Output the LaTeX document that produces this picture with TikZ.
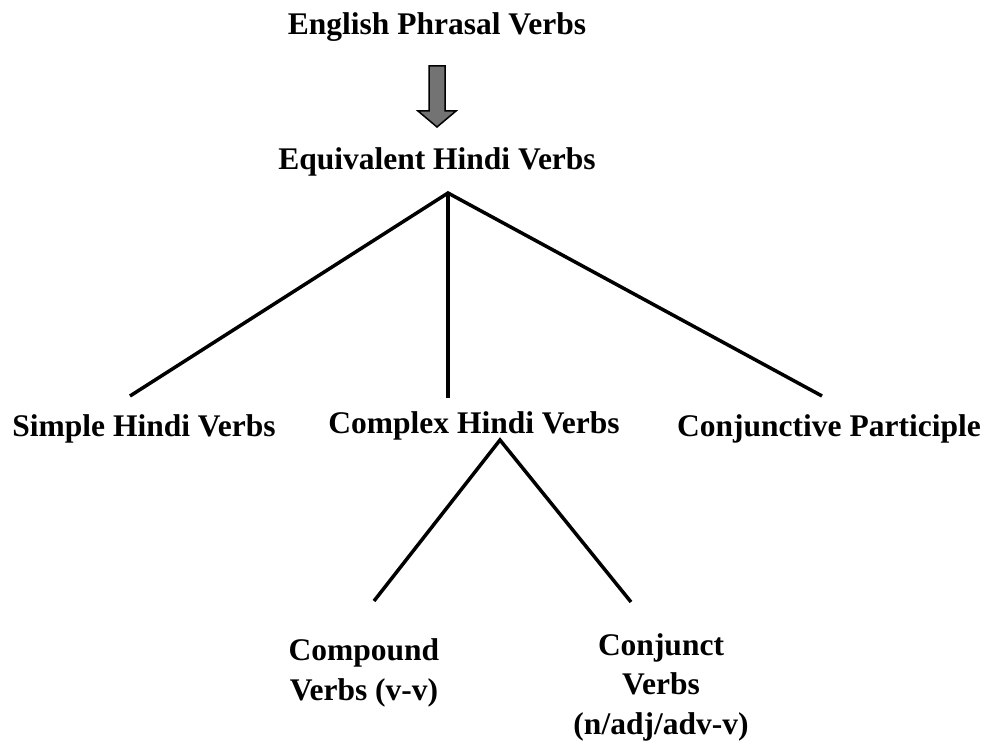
\documentclass[tikz,border=0pt]{standalone}
\usepackage{fontspec}
\setmainfont{Liberation Serif}
\begin{document}
\begin{tikzpicture}[x=1pt,y=-1pt,
  lbl/.style={font=\bfseries\fontsize{31.5}{39.5}\selectfont, inner sep=0pt, align=center},
  edge/.style={line width=3.5pt}]
\useasboundingbox (0,0) rectangle (995,749);
\node[lbl] (eng) at (437,27) {English Phrasal Verbs};
\node[lbl] (hin) at (437,162) {Equivalent Hindi Verbs};
\node[lbl] (simple) at (144,429) {Simple Hindi Verbs};
\node[lbl] (complex) at (474,426) {Complex Hindi Verbs};
\node[lbl] (conjp) at (829,429) {Conjunctive Participle};
\node[lbl] (comp) at (364,673) {Compound\\Verbs (v-v)};
\node[lbl] (conj) at (661,687) {Conjunct\\Verbs\\(n/adj/adv-v)};
\coordinate (apex) at (448,193);
\coordinate (sE) at (130,396);
\coordinate (cE) at (448,398);
\coordinate (pE) at (822,396);
\coordinate (apex2) at (500,440);
\coordinate (compE) at (374,601);
\coordinate (conjE) at (631,602);
\draw[edge] (sE) -- (apex) -- (pE);
\draw[edge] (apex) -- (cE);
\draw[edge] (compE) -- (apex2) -- (conjE);
\filldraw[fill=black!55, draw=black, line width=1.5pt, line join=miter]
  (429,66) -- (445,66) -- (445,111) -- (456,111) -- (437,127) -- (418,111) -- (429,111) -- cycle;
\end{tikzpicture}
\end{document}
